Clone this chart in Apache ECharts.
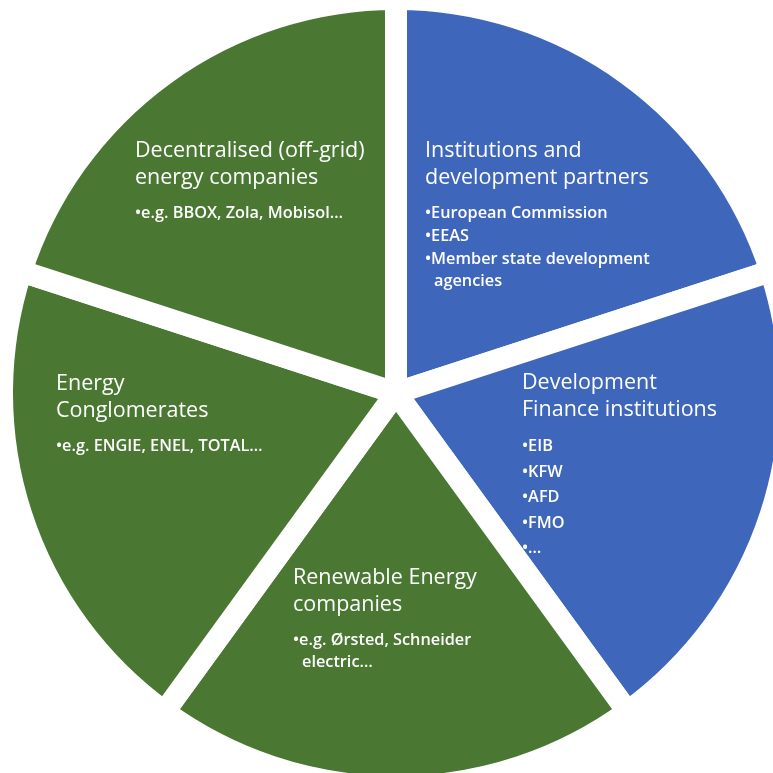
<!DOCTYPE html>
<html>
<head>
<meta charset="utf-8">
<style>
  html, body { margin: 0; padding: 0; background: #ffffff; }
  #chart { width: 773px; height: 773px; }
</style>
<script src="https://cdn.jsdelivr.net/npm/echarts@6/dist/echarts.min.js"></script>
</head>
<body>
<div id="chart"></div>
<script>
// ---- data ----
var categories = [
  ['Institutions and', 'development partners'],
  ['Development', 'Finance institutions'],
  ['Renewable Energy', 'companies'],
  ['Energy', 'Conglomerates'],
  ['Decentralised (off-grid)', 'energy companies']
];
var bullets = [
  [['European Commission'], ['EEAS'], ['Member state development', 'agencies']],
  [['EIB'], ['KFW'], ['AFD'], ['FMO'], ['…']],
  [['e.g. Ørsted, Schneider', 'electric…']],
  [['e.g. ENGIE, ENEL, TOTAL…']],
  [['e.g. BBOX, Zola, Mobisol…']]
];
var values = [1, 1, 1, 1, 1];
var groups = ['blue', 'blue', 'green', 'green', 'green'];

// ---- styles / layout ----
var colors = { blue: '#3e66ba', green: '#4a7732' };
var bulletStyle = ['b', 'bl', 'b', 'b', 'b'];
var labelAnchors = [
  [425, 137],
  [522, 369],
  [293, 564],
  [56, 370],
  [135, 137]
];
var FONT = '"Open Sans", Lato, sans-serif';

function buildLabel(i) {
  var parts = [];
  categories[i].forEach(function (t) { parts.push('{t|' + t + '}'); });
  parts.push('{g| }');
  bullets[i].forEach(function (lines) {
    lines.forEach(function (ln, k) {
      if (k === 0) parts.push('{' + bulletStyle[i] + '|•' + ln + '}');
      else parts.push('{c|' + ln + '}');
    });
  });
  return parts.join('\n');
}

var data = values.map(function (v, i) {
  return {
    value: v,
    name: categories[i].join(' '),
    itemStyle: { color: colors[groups[i]] },
    label: { formatter: buildLabel(i) }
  };
});

var chart = echarts.init(document.getElementById('chart'), null, { renderer: 'canvas' });
chart.setOption({
  animation: false,
  backgroundColor: '#ffffff',
  series: [{
    type: 'pie',
    center: [396, 393],
    radius: [0, 394],
    startAngle: 90,
    clockwise: true,
    silent: true,
    itemStyle: { borderColor: '#ffffff', borderWidth: 22, borderJoin: 'miter' },
    emphasis: { disabled: true },
    labelLine: { show: false },
    label: {
      show: true,
      position: 'inside',
      color: '#ffffff',
      fontFamily: FONT,
      align: 'left',
      verticalAlign: 'top',
      rich: {
        t: { fontSize: 21.5, lineHeight: 27, color: '#ffffff', fontFamily: FONT, align: 'left' },
        g: { fontSize: 2, lineHeight: 11, align: 'left' },
        b: { fontSize: 16.3, lineHeight: 23, fontWeight: 600, color: '#ffffff', fontFamily: FONT, align: 'left' },
        bl: { fontSize: 16.3, lineHeight: 25.5, fontWeight: 600, color: '#ffffff', fontFamily: FONT, align: 'left' },
        c: { fontSize: 16.3, lineHeight: 20, fontWeight: 600, color: '#ffffff', fontFamily: FONT, align: 'left', padding: [0, 0, 0, 9] }
      }
    },
    labelLayout: function (params) {
      var a = labelAnchors[params.dataIndex];
      return { x: a[0], y: a[1], align: 'left', verticalAlign: 'top' };
    },
    data: data
  }]
});
</script>
</body>
</html>
